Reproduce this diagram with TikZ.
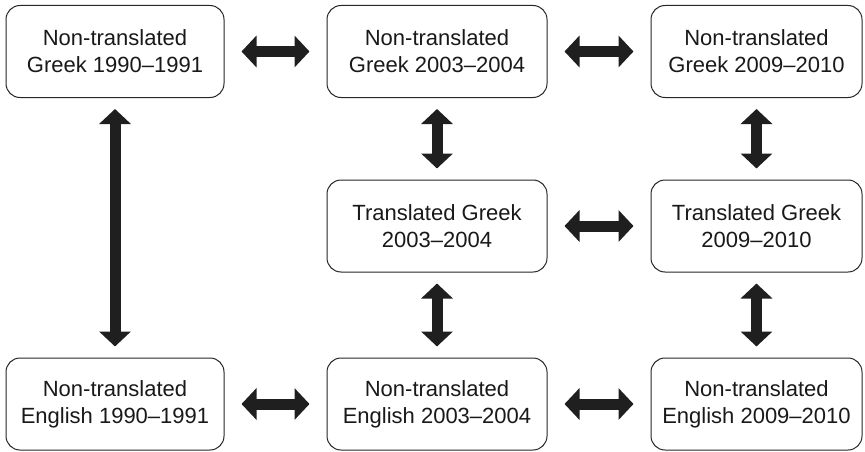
\documentclass[tikz,border=0pt]{standalone}
\usepackage{fontspec}
\setmainfont{Liberation Sans}
\usetikzlibrary{arrows.meta}
\begin{document}
\begin{tikzpicture}[x=1pt,y=-1pt,
  box/.style={draw=black!85, line width=1pt, rounded corners=14pt,
    minimum height=92pt, align=center, inner sep=0pt,
    font=\fontsize{22}{27}\selectfont, text=black!90},
  link/.style={line width=11pt, draw=black!88,
    {Triangle[width=31pt,length=15pt]}-{Triangle[width=31pt,length=15pt]}},
  hlink/.style={link, shorten <=17pt, shorten >=17pt},
  vlink/.style={link, shorten <=11pt, shorten >=11pt}]
  \useasboundingbox (0,0) rectangle (865,452);

  % top row: non-translated Greek
  \node[box, minimum width=218pt] (g90) at (115,51.5) {Non-translated\\Greek 1990--1991};
  \node[box, minimum width=220pt] (g03) at (437,51.5) {Non-translated\\Greek 2003--2004};
  \node[box, minimum width=211pt] (g09) at (756.5,51.5) {Non-translated\\Greek 2009--2010};

  % middle row: translated Greek
  \node[box, minimum width=220pt] (t03) at (437,226) {Translated Greek\\2003--2004};
  \node[box, minimum width=211pt] (t09) at (756.5,226) {Translated Greek\\2009--2010};

  % bottom row: non-translated English
  \node[box, minimum width=218pt] (e90) at (115,404) {Non-translated\\English 1990--1991};
  \node[box, minimum width=220pt] (e03) at (437,404) {Non-translated\\English 2003--2004};
  \node[box, minimum width=211pt] (e09) at (756.5,404) {Non-translated\\English 2009--2010};

  % horizontal links
  \draw[hlink] (g90.east) -- (g03.west);
  \draw[hlink] (g03.east) -- (g09.west);
  \draw[hlink] (t03.east) -- (t09.west);
  \draw[hlink] (e90.east) -- (e03.west);
  \draw[hlink] (e03.east) -- (e09.west);

  % vertical links
  \draw[vlink] (g90.south) -- (e90.north);
  \draw[vlink] (g03.south) -- (t03.north);
  \draw[vlink] (t03.south) -- (e03.north);
  \draw[vlink] (g09.south) -- (t09.north);
  \draw[vlink] (t09.south) -- (e09.north);
\end{tikzpicture}
\end{document}
